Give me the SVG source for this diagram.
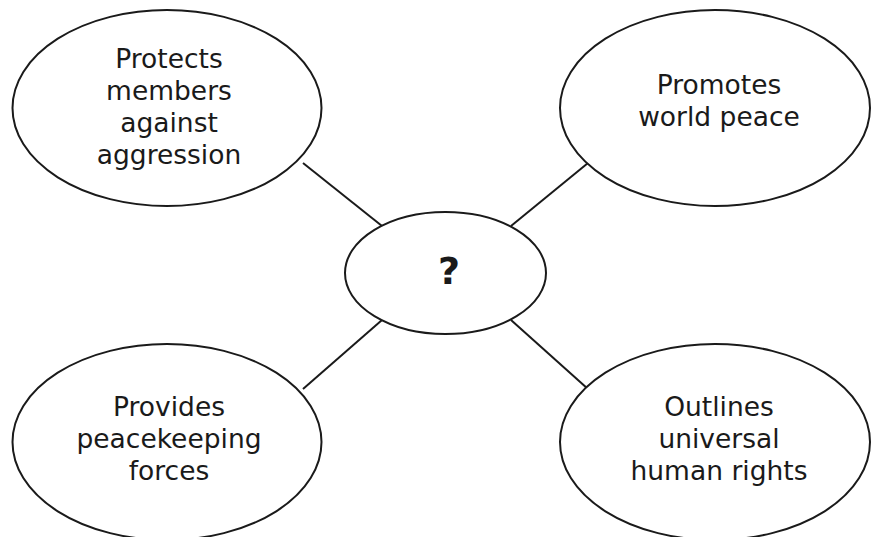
<svg xmlns="http://www.w3.org/2000/svg" width="871" height="537" viewBox="0 0 871 537">
<style>
.node ellipse{fill:#fff;stroke:#1a1a1a;stroke-width:2}
.conn line{stroke:#1a1a1a;stroke-width:2}
text{font-family:"DejaVu Sans",Verdana,sans-serif;font-size:26.5px;fill:#1a1a1a;text-anchor:middle}
.q{font-weight:bold;font-size:38px}
</style>
<rect width="871" height="537" fill="#fff"/>
<g id="connectors" class="conn">
<line x1="303" y1="163" x2="382" y2="226"/>
<line x1="588" y1="163" x2="511" y2="226"/>
<line x1="382" y1="320" x2="303" y2="389"/>
<line x1="511" y1="320" x2="588" y2="389"/>
</g>
<g id="center" class="node">
<ellipse cx="445.5" cy="273" rx="100.5" ry="61"/>
<text class="q" x="449" y="284">?</text>
</g>
<g id="protects" class="node">
<ellipse cx="167" cy="108" rx="154.5" ry="98"/>
<text x="169" y="68">Protects</text>
<text x="169" y="100">members</text>
<text x="169" y="132">against</text>
<text x="169" y="164">aggression</text>
</g>
<g id="promotes" class="node">
<ellipse cx="715" cy="108" rx="155" ry="98"/>
<text x="719" y="94">Promotes</text>
<text x="719" y="126">world peace</text>
</g>
<g id="provides" class="node">
<ellipse cx="167" cy="442" rx="154.5" ry="98"/>
<text x="169" y="416">Provides</text>
<text x="169" y="448">peacekeeping</text>
<text x="169" y="480">forces</text>
</g>
<g id="outlines" class="node">
<ellipse cx="715" cy="442" rx="155" ry="98"/>
<text x="719" y="416">Outlines</text>
<text x="719" y="448">universal</text>
<text x="719" y="480">human rights</text>
</g>
</svg>
